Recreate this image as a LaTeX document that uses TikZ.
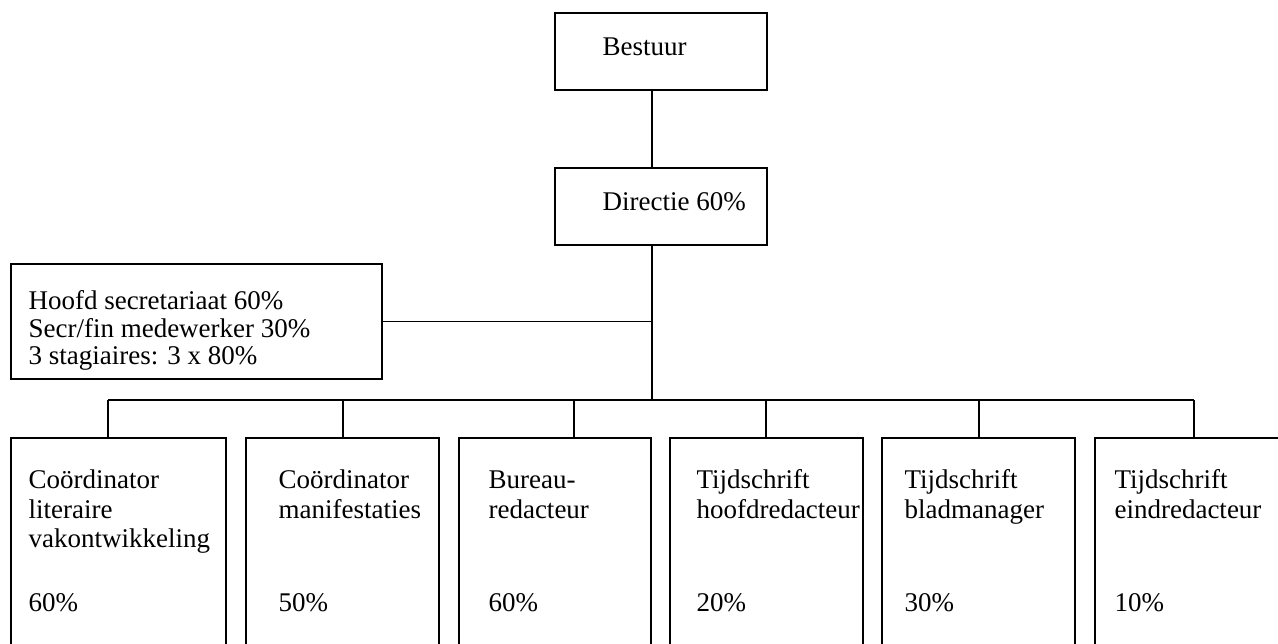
\documentclass[tikz,border=0pt]{standalone}
\usepackage{fontspec}
\setmainfont{Liberation Serif}
\begin{document}
\begin{tikzpicture}[x=0.75pt,y=-0.75pt,line width=0.8pt,
	box/.style={draw,anchor=north west,inner sep=0pt,outer sep=0pt},
	lbl/.style={anchor=base west,inner sep=0pt,font=\fontsize{20.25pt}{24pt}\selectfont}]
	\useasboundingbox (0,0) rectangle (1278,643) ;
	\clip (0,0) rectangle (1278,643) ;
	% top
	\node[box,minimum width=159pt,minimum height=57.75pt] (bestuur) at (555,13) {} ;
	\node[lbl] (tbestuur) at (602,55) {Bestuur} ;
	\node[box,minimum width=159pt,minimum height=57.75pt] (directie) at (555,168) {} ;
	\node[lbl] (tdirectie) at (602,210) {Directie 60\%} ;
	\node[box,minimum width=278.25pt,minimum height=86.25pt] (secr) at (11,264) {} ;
	\node[lbl] (tsecra) at (28,309) {Hoofd secretariaat 60\%} ;
	\node[lbl] (tsecrb) at (28,337) {Secr/fin medewerker 30\%} ;
	\node[lbl] (tsecrc) at (28,364) {3 stagiaires: 3 x 80\%} ;
	\coordinate (bus) at (652,400) ;
	% bottom row
	\node[box,minimum width=161.25pt,minimum height=166.5pt] (coordlit) at (11,438) {} ;
	\node[lbl] at (28,488) {Coördinator} ;
	\node[lbl] at (28,518) {literaire} ;
	\node[lbl] at (28,547) {vakontwikkeling} ;
	\node[lbl] at (28,611) {60\%} ;
	\node[box,minimum width=144.75pt,minimum height=166.5pt] (coordman) at (246,438) {} ;
	\node[lbl] at (278,488) {Coördinator} ;
	\node[lbl] at (278,518) {manifestaties} ;
	\node[lbl] at (278,611) {50\%} ;
	\node[box,minimum width=144pt,minimum height=166.5pt] (bureau) at (459,438) {} ;
	\node[lbl] at (488,488) {Bureau-} ;
	\node[lbl] at (488,518) {redacteur} ;
	\node[lbl] at (488,611) {60\%} ;
	\node[box,minimum width=144.75pt,minimum height=166.5pt] (hoofdred) at (670,438) {} ;
	\node[lbl] at (696,488) {Tijdschrift} ;
	\node[lbl] at (696,518) {hoofdredacteur} ;
	\node[lbl] at (696,611) {20\%} ;
	\node[box,minimum width=144.75pt,minimum height=166.5pt] (bladman) at (882,438) {} ;
	\node[lbl] at (904,488) {Tijdschrift} ;
	\node[lbl] at (904,518) {bladmanager} ;
	\node[lbl] at (904,611) {30\%} ;
	\node[box,minimum width=144.75pt,minimum height=166.5pt] (eindred) at (1095,438) {} ;
	\node[lbl] at (1114,488) {Tijdschrift} ;
	\node[lbl] at (1114,518) {eindredacteur} ;
	\node[lbl] at (1114,611) {10\%} ;
	% lines
	\coordinate (dcoordlit) at (108,400) ;
	\coordinate (dcoordman) at (343,400) ;
	\coordinate (dbureau) at (574,400) ;
	\coordinate (dhoofdred) at (766,400) ;
	\coordinate (dbladman) at (979,400) ;
	\coordinate (deindred) at (1194,400) ;
	\draw (bestuur.south -| bus) -- (directie.north -| bus) ;
	\draw (directie.south -| bus) -- (bus) ;
	\draw (secr.east) -- (secr.east -| bus) ;
	\draw (dcoordlit) -- (deindred) ;
	\draw (dcoordlit) -- (coordlit.north -| dcoordlit) ;
	\draw (dcoordman) -- (coordman.north -| dcoordman) ;
	\draw (dbureau) -- (bureau.north -| dbureau) ;
	\draw (dhoofdred) -- (hoofdred.north -| dhoofdred) ;
	\draw (dbladman) -- (bladman.north -| dbladman) ;
	\draw (deindred) -- (eindred.north -| deindred) ;
\end{tikzpicture}
\end{document}
